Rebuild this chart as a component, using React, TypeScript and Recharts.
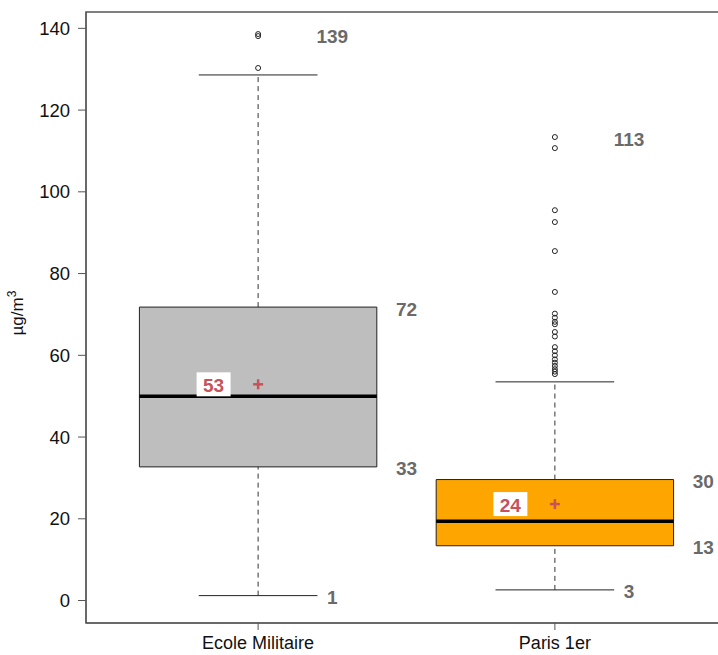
import { ComposedChart, XAxis, YAxis, Scatter, ReferenceArea, ReferenceLine } from "recharts";

const categories = ["Ecole Militaire", "Paris 1er"];
const lowerWhisker = [1.2, 2.6];
const q1 = [32.7, 13.4];
const median = [50.0, 19.4];
const q3 = [71.8, 29.6];
const upperWhisker = [128.6, 53.5];
const means = [52.9, 23.6];
const boxColors = ["#bebebe", "#ffa500"];
const outliersEcole = [138.6, 138.1, 130.3];
const outliersParis = [
  113.4, 110.7, 95.5, 92.6, 85.5, 75.5, 70.2, 69.2, 68.2, 67.6, 65.7, 64.6, 62.0,
  61.0, 60.0, 59.0, 58.2, 57.4, 56.6, 56.0, 55.4,
];
const yTicks = [0, 20, 40, 60, 80, 100, 120, 140];

const FONT = "'Liberation Sans', Arial, sans-serif";
const RED = "#c8525a";

const outlierPts = [
  ...outliersEcole.map((y) => ({ x: 1, y })),
  ...outliersParis.map((y) => ({ x: 2, y })),
];
const meanPts = means.map((y, i) => ({ x: i + 1, y }));
const meanLabelPts = means.map((y, i) => ({ x: i + 0.85, y, text: String(Math.round(y)) }));

const tops = [Math.max(...outliersEcole), Math.max(...outliersParis)];
const statLabelPts = categories.flatMap((_, i) => [
  { x: i + 1.25, y: lowerWhisker[i], text: String(Math.round(lowerWhisker[i])) },
  { x: i + 1.5, y: q1[i], text: String(Math.round(q1[i])) },
  { x: i + 1.5, y: q3[i], text: String(Math.round(q3[i])) },
  { x: i + 1.25, y: tops[i], text: String(Math.round(tops[i])) },
]);

function Outlier(props: any) {
  return <circle cx={props.cx} cy={props.cy} r={2.5} fill="none" stroke="#222" strokeWidth={1} />;
}

function Plus(props: any) {
  const { cx, cy } = props;
  return (
    <g stroke={RED} strokeWidth={2.5}>
      <line x1={cx - 5} x2={cx + 5} y1={cy} y2={cy} />
      <line x1={cx} x2={cx} y1={cy - 5} y2={cy + 5} />
    </g>
  );
}

function MeanLabel(props: any) {
  const { cx, cy, payload } = props;
  return (
    <g>
      <rect x={cx - 17} y={cy - 12} width={34} height={24} fill="#fff" />
      <text x={cx} y={cy + 1} textAnchor="middle" dominantBaseline="central" fill={RED}
        fontSize={19} fontWeight="bold" fontFamily={FONT}>
        {payload.text}
      </text>
    </g>
  );
}

function StatLabel(props: any) {
  const { cx, cy, payload } = props;
  return (
    <text x={cx} y={cy + 2} textAnchor="middle" dominantBaseline="central" fill="#6a6a6a"
      fontSize={19} fontWeight="bold" fontFamily={FONT}>
      {payload.text}
    </text>
  );
}

function YLabel() {
  return (
    <text x={23} y={313} transform="rotate(-90, 23, 313)" textAnchor="middle" fill="#111"
      fontSize={17} fontFamily={FONT}>
      µg/m<tspan dy={-7} fontSize={12}>3</tspan>
    </text>
  );
}

export default function App() {
  return (
    <div style={{ width: 718, height: 655, overflow: "hidden", position: "relative", background: "#fff" }}>
      <style>{"body{margin:0}"}</style>
      <ComposedChart width={740} height={655} margin={{ top: 12, right: 13, bottom: 0, left: 0 }}>
        <XAxis
          type="number"
          dataKey="x"
          domain={[0.42, 2.58]}
          allowDataOverflow
          ticks={[1, 2]}
          tickFormatter={(v: number) => categories[v - 1]}
          height={32}
          tickSize={7}
          tickMargin={6}
          stroke="#555"
          tick={{ fill: "#111", fontSize: 18, fontFamily: FONT }}
        />
        <YAxis
          type="number"
          dataKey="y"
          domain={[-5.5, 144]}
          allowDataOverflow
          ticks={yTicks}
          width={86}
          tickSize={8}
          tickMargin={8}
          stroke="#555"
          tick={{ fill: "#111", fontSize: 18.5, fontFamily: FONT }}
          label={{ content: <YLabel /> }}
        />
        <ReferenceArea x1={0.42} x2={2.58} y1={-5.5} y2={144} fill="none" stroke="#555" strokeWidth={1.5} />
        {categories.map((c, i) => (
          <ReferenceArea
            key={"box" + c}
            x1={i + 1 - 0.4}
            x2={i + 1 + 0.4}
            y1={q1[i]}
            y2={q3[i]}
            fill={boxColors[i]}
            fillOpacity={1}
            stroke="#222"
            strokeWidth={1}
          />
        ))}
        {categories.map((c, i) => (
          <ReferenceLine key={"wu" + c} segment={[{ x: i + 1, y: q3[i] }, { x: i + 1, y: upperWhisker[i] }]}
            stroke="#333" strokeDasharray="5 4" />
        ))}
        {categories.map((c, i) => (
          <ReferenceLine key={"wl" + c} segment={[{ x: i + 1, y: lowerWhisker[i] }, { x: i + 1, y: q1[i] }]}
            stroke="#333" strokeDasharray="5 4" />
        ))}
        {categories.map((c, i) => (
          <ReferenceLine key={"cu" + c} segment={[{ x: i + 0.8, y: upperWhisker[i] }, { x: i + 1.2, y: upperWhisker[i] }]}
            stroke="#222" />
        ))}
        {categories.map((c, i) => (
          <ReferenceLine key={"cl" + c} segment={[{ x: i + 0.8, y: lowerWhisker[i] }, { x: i + 1.2, y: lowerWhisker[i] }]}
            stroke="#222" />
        ))}
        {categories.map((c, i) => (
          <ReferenceLine key={"md" + c} segment={[{ x: i + 0.6, y: median[i] }, { x: i + 1.4, y: median[i] }]}
            stroke="#000" strokeWidth={3.5} />
        ))}
        <Scatter data={outlierPts} shape={<Outlier />} isAnimationActive={false} />
        <Scatter data={meanPts} shape={<Plus />} isAnimationActive={false} />
        <Scatter data={meanLabelPts} shape={<MeanLabel />} isAnimationActive={false} />
        <Scatter data={statLabelPts} shape={<StatLabel />} isAnimationActive={false} />
      </ComposedChart>
    </div>
  );
}
